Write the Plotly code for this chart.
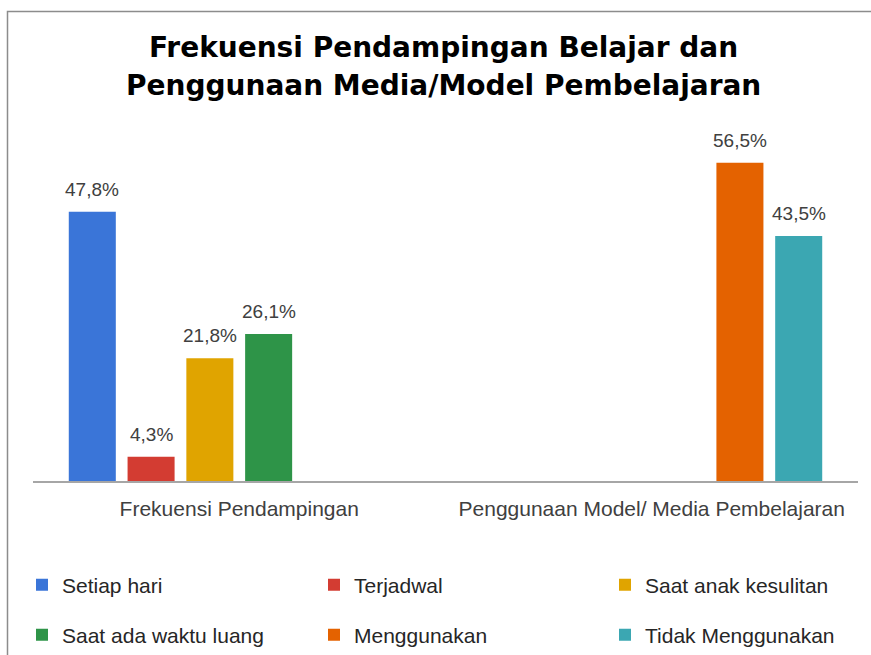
import plotly.graph_objects as go

# Categories on the x axis
categories = ["Frekuensi Pendampingan", "Penggunaan Model/ Media Pembelajaran"]

# Series (percent); None where a series has no value in a category
series_names = [
    "Setiap hari",
    "Terjadwal",
    "Saat anak kesulitan",
    "Saat ada waktu luang",
    "Menggunakan",
    "Tidak Menggunakan",
]
setiap_hari = [47.8, None]
terjadwal = [4.3, None]
saat_anak_kesulitan = [21.8, None]
saat_ada_waktu_luang = [26.1, None]
menggunakan = [None, 56.5]
tidak_menggunakan = [None, 43.5]

series_values = [
    setiap_hari,
    terjadwal,
    saat_anak_kesulitan,
    saat_ada_waktu_luang,
    menggunakan,
    tidak_menggunakan,
]
colors = ["#3A75D8", "#D33C32", "#E0A400", "#2E9448", "#E46200", "#3BA7B2"]

W, H = 871, 655
ML, MR, MT, MB = 33, 13, 143, 174
plot_w = W - ML - MR
plot_h = H - MT - MB
BARGAP = 0.145
slot = plot_w / len(categories) * (1 - BARGAP) / len(series_names)

FONT = "Liberation Sans, Arial, sans-serif"
TITLE_FONT = "DejaVu Sans, Arial, sans-serif"
TEXT = "#404040"


def px_to_paper_x(px):
    return (px - ML) / plot_w


def px_to_paper_y(py):
    return (H - MB - py) / plot_h


legend_ids = ["legend", "legend2", "legend3", "legend4", "legend5", "legend6"]

fig = go.Figure()
for i, (name, vals, col) in enumerate(zip(series_names, series_values, colors)):
    fig.add_trace(go.Bar(
        x=categories, y=vals, name=name,
        marker=dict(color=col, line=dict(width=0)),
        legend=legend_ids[i], showlegend=True,
        hoverinfo="skip",
    ))

# Value labels above each bar
annotations = []
for i, vals in enumerate(series_values):
    for cat, v in zip(categories, vals):
        if v is None:
            continue
        annotations.append(dict(
            x=cat, y=v, xref="x", yref="y",
            xshift=(i - (len(series_names) - 1) / 2) * slot,
            yshift=10, yanchor="bottom", showarrow=False,
            text=f"{v:.1f}".replace(".", ",") + "%",
            font=dict(family=FONT, size=19, color=TEXT),
        ))

# Two-line bold title
title_lines = ["Frekuensi Pendampingan Belajar dan", "Penggunaan Media/Model Pembelajaran"]
for line, cy in zip(title_lines, [47, 85]):
    annotations.append(dict(
        x=px_to_paper_x(443), y=px_to_paper_y(cy), xref="paper", yref="paper",
        xanchor="center", yanchor="middle", showarrow=False, text=f"<b>{line}</b>",
        font=dict(family=TITLE_FONT, size=28, color="#000000"),
    ))

# Legend: three columns, two rows, one legend box per entry
legend_layout = {}
col_x = [22, 314, 605]
row_y = [585, 635]
for i, lid in enumerate(legend_ids):
    legend_layout[lid] = dict(
        xref="container", yref="container",
        x=col_x[i % 3] / W, y=1 - row_y[i // 3] / H,
        xanchor="left", yanchor="middle",
        font=dict(family=FONT, size=21, color="#262626"),
        bgcolor="rgba(0,0,0,0)",
    )

fig.update_layout(
    width=W, height=H,
    showlegend=True,
    margin=dict(l=ML, r=MR, t=MT, b=MB, autoexpand=False),
    paper_bgcolor="white", plot_bgcolor="white",
    barmode="group", bargap=BARGAP, bargroupgap=0.2,
    annotations=annotations,
    # outer frame of the chart area
    shapes=[dict(
        type="rect", xref="paper", yref="paper",
        x0=px_to_paper_x(7.5), x1=px_to_paper_x(W + 20),
        y0=px_to_paper_y(H + 20), y1=px_to_paper_y(11.5),
        line=dict(color="#8C8C8C", width=1.5), fillcolor="rgba(0,0,0,0)",
        layer="below",
    )],
    xaxis=dict(
        showline=True, linecolor="#A6A6A6", linewidth=1.5, ticks="",
        tickfont=dict(family=FONT, size=21, color=TEXT), ticklabelstandoff=8,
        showgrid=False, zeroline=False,
    ),
    yaxis=dict(
        range=[0, 60], visible=False, showgrid=False, zeroline=False,
    ),
    **legend_layout,
)

fig.write_html("out.html")
